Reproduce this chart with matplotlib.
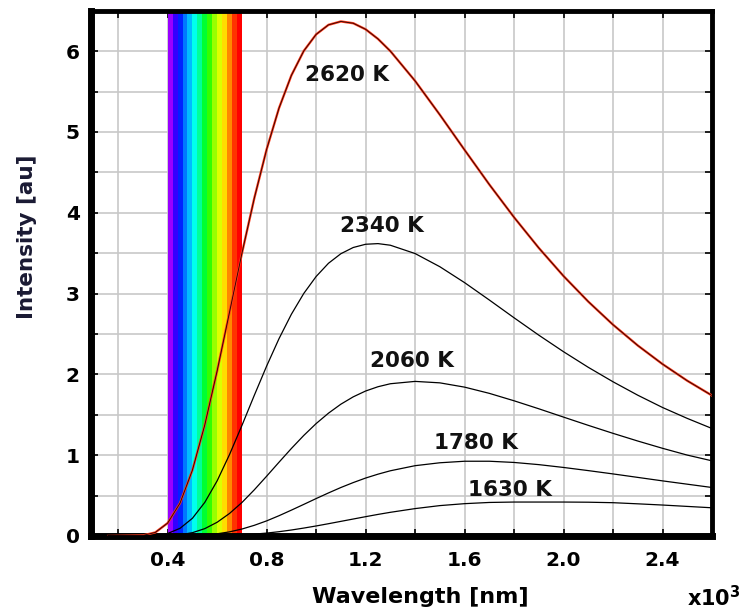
import matplotlib
matplotlib.use("Agg")
import matplotlib.pyplot as plt
import numpy as np

# wavelength grid (x10^3 nm) and curve intensities
wl = [0.16, 0.30, 0.35, 0.40, 0.45, 0.50, 0.55, 0.60, 0.65, 0.70, 0.75, 0.80,
      0.85, 0.90, 0.95, 1.00, 1.05, 1.10, 1.15, 1.20, 1.25, 1.30, 1.40, 1.50,
      1.60, 1.70, 1.80, 1.90, 2.00, 2.10, 2.20, 2.30, 2.40, 2.50, 2.60]

i_2620 = [0.0, 0.007, 0.044, 0.160, 0.407, 0.815, 1.374, 2.044, 2.770, 3.497,
          4.179, 4.785, 5.295, 5.700, 6.002, 6.207, 6.325, 6.367, 6.345, 6.270,
          6.151, 6.000, 5.631, 5.212, 4.777, 4.349, 3.943, 3.564, 3.216, 2.900,
          2.614, 2.357, 2.127, 1.921, 1.738]
i_2340 = [0.0, 0.001, 0.007, 0.031, 0.095, 0.219, 0.416, 0.683, 1.008, 1.367,
          1.740, 2.103, 2.442, 2.744, 3.001, 3.211, 3.375, 3.493, 3.570, 3.610,
          3.618, 3.598, 3.495, 3.332, 3.135, 2.920, 2.700, 2.485, 2.280, 2.087,
          1.908, 1.742, 1.590, 1.455, 1.330]
i_2060 = [0.0, 0.0, 0.001, 0.004, 0.015, 0.041, 0.091, 0.170, 0.279, 0.414,
          0.571, 0.740, 0.913, 1.083, 1.244, 1.391, 1.520, 1.631, 1.722, 1.794,
          1.847, 1.884, 1.913, 1.895, 1.842, 1.765, 1.673, 1.574, 1.471, 1.369,
          1.270, 1.175, 1.085, 1.001, 0.930]
i_1780 = [0.0, 0.0, 0.0, 0.0, 0.001, 0.005, 0.012, 0.027, 0.051, 0.086,
          0.132, 0.187, 0.251, 0.320, 0.391, 0.463, 0.533, 0.600, 0.661, 0.717,
          0.765, 0.807, 0.870, 0.906, 0.925, 0.925, 0.910, 0.883, 0.848, 0.809,
          0.768, 0.725, 0.682, 0.641, 0.600]
i_1630 = [0.0, 0.0, 0.0, 0.0, 0.0, 0.0, 0.001, 0.003, 0.007, 0.013,
          0.023, 0.036, 0.053, 0.074, 0.098, 0.124, 0.152, 0.181, 0.210, 0.239,
          0.267, 0.293, 0.339, 0.376, 0.400, 0.415, 0.420, 0.420, 0.420, 0.418,
          0.412, 0.398, 0.383, 0.366, 0.349]

curve_labels = ["2620 K", "2340 K", "2060 K", "1780 K", "1630 K"]
label_x = [1.125, 1.266, 1.388, 1.646, 1.783]
label_y = [5.71, 3.83, 2.16, 1.15, 0.57]

# visible band stripes between 0.4 and 0.7
band_lo, band_hi = 0.4, 0.7
band_colors = ["#9900ff", "#3300ff", "#0022ff", "#0077ff", "#00bbff",
               "#00ffee", "#00ff99", "#00ff33", "#33ff00", "#99ff00",
               "#ddff00", "#ffdd00", "#ff8800", "#ff3300", "#ff0000"]

xticks = [0.2, 0.4, 0.6, 0.8, 1.0, 1.2, 1.4, 1.6, 1.8, 2.0, 2.2, 2.4]
xtick_labels = ["", "0.4", "", "0.8", "", "1.2", "", "1.6", "", "2.0", "", "2.4"]
yticks = [0, 0.5, 1, 1.5, 2, 2.5, 3, 3.5, 4, 4.5, 5, 5.5, 6]
ytick_labels = ["0", "", "1", "", "2", "", "3", "", "4", "", "5", "", "6"]

plt.rcParams["font.family"] = "DejaVu Sans"
plt.rcParams["font.weight"] = "bold"

fig = plt.figure(figsize=(7.42, 6.12), dpi=100)
ax = fig.add_axes([0.1226, 0.1242, 0.9596 - 0.1226, 0.9825 - 0.1242])

ax.set_xlim(0.09, 2.6)
ax.set_ylim(0, 6.5)

#grid under everything
ax.set_axisbelow(True)
ax.grid(True, color="#c8c8c8", linewidth=1.2)

edges = np.linspace(band_lo, band_hi, len(band_colors) + 1)
for k, c in enumerate(band_colors):
    ax.axvspan(edges[k], edges[k + 1], color=c, lw=0, zorder=1)

# hottest curve: red with a dark core
ax.plot(wl, i_2620, color="#ff3a1a", lw=1.7, zorder=3)
ax.plot(wl, i_2620, color="#200000", lw=0.6, zorder=4)
for ys in [i_2340, i_2060, i_1780, i_1630]:
    ax.plot(wl, ys, color="black", lw=0.9, zorder=3)

for t, x, y in zip(curve_labels, label_x, label_y):
    ax.text(x, y, t, fontsize=15.5, fontweight="bold", ha="center", va="center",
            color="#111111", zorder=5)

ax.set_xticks(xticks)
ax.set_xticklabels(xtick_labels)
ax.set_yticks(yticks)
ax.set_yticklabels(ytick_labels)
ax.tick_params(direction="in", length=5, width=1.2, top=True, right=True,
               labelsize=14.5)
ax.tick_params(axis="x", pad=11)
ax.tick_params(axis="y", pad=8)

ax.spines["left"].set_linewidth(5)
ax.spines["bottom"].set_linewidth(5)
ax.spines["top"].set_linewidth(3.5)
ax.spines["right"].set_linewidth(3.5)

ax.text(0.53, -0.116, "Wavelength [nm]", transform=ax.transAxes, fontsize=16,
        fontweight="bold", ha="center", va="center")
ax.text(-0.103, 0.57, "Intensity [au]", transform=ax.transAxes, fontsize=15.5,
        fontweight="bold", ha="center", va="center", rotation=90,
        color="#1a1a33")
fig.text(0.998, 1 - 598 / 612, r"x10$^{\mathbf{3}}$", fontsize=15,
         fontweight="bold", ha="right", va="center")

fig.savefig("out.png", dpi=100)
